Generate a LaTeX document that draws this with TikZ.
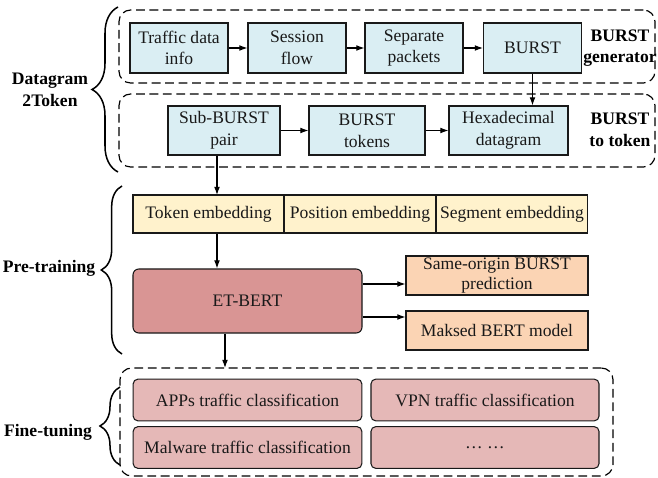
\documentclass[tikz,border=0pt]{standalone}
\usepackage{fontspec}
\setmainfont{Liberation Serif}
\usetikzlibrary{arrows.meta,decorations.pathreplacing}

\definecolor{stepblue}{HTML}{DAEEF3}
\definecolor{embyellow}{HTML}{FFF2CC}
\definecolor{taskpeach}{HTML}{FBD4B4}
\definecolor{bertred}{HTML}{D99594}
\definecolor{finepink}{HTML}{E5B8B7}

\begin{document}
\begin{tikzpicture}[x=0.03cm,y=-0.03cm,
    font=\fontsize{15}{18.5}\selectfont,
    every node/.style={align=center,inner sep=0pt,text=black!90},
    stepbox/.style={draw=black!90,line width=0.9pt,fill=stepblue,minimum height=1.5cm,minimum width=2.94cm},
    embbox/.style={draw=black!90,line width=0.9pt,fill=embyellow,minimum height=1.14cm,minimum width=4.55cm},
    taskbox/.style={draw=black!90,line width=0.9pt,fill=taskpeach,minimum height=1.17cm,minimum width=5.46cm},
    finebox/.style={draw=black!90,line width=0.9pt,fill=finepink,rounded corners=4pt,minimum height=1.25cm,minimum width=6.86cm},
    groupbox/.style={draw=black,line width=1pt,dash pattern=on 7.5pt off 4pt,rounded corners=10pt},
    lbl/.style={font=\fontsize{15}{18.5}\selectfont\bfseries,text=black},
    arr/.style={-{Latex[length=7pt,width=5pt]},line width=0.9pt,draw=black},
    brc/.style={decorate,line width=1.3pt,draw=black}]
    \useasboundingbox (0,0) rectangle (658,478);

    % Datagram2Token: burst generator
    \node[groupbox,minimum width=16.08cm,minimum height=2.19cm] (genbox) at (387,46.5) {};
    \node[stepbox] (trafficinfo) at (179,48) {Traffic data\\info};
    \node[stepbox] (session) at (297,48) {Session\\flow};
    \node[stepbox] (seppkt) at (414,48) {Separate\\packets};
    \node[stepbox] (burst) at (532.5,48) {BURST};
    \node[lbl] (genlbl) at (620,48) {BURST\\generator};

    % Datagram2Token: burst to token
    \node[groupbox,minimum width=16.08cm,minimum height=2.19cm] (tokbox) at (387,130.5) {};
    \node[stepbox,minimum width=3.36cm,minimum height=1.47cm] (subpair) at (224,130.5) {Sub-BURST\\pair};
    \node[stepbox,minimum width=3.48cm,minimum height=1.47cm] (bursttok) at (367,130.5) {BURST\\tokens};
    \node[stepbox,minimum width=3.57cm,minimum height=1.47cm] (hexdata) at (508.5,130.5) {Hexadecimal\\datagram};
    \node[lbl] (toklbl) at (620,130) {BURST\\to token};

    \draw[arr] (trafficinfo) -- (session);
    \draw[arr] (session) -- (seppkt);
    \draw[arr] (seppkt) -- (burst);
    \draw[arr] (burst) -- (burst |- hexdata.north);
    \draw[arr] (subpair) -- (bursttok);
    \draw[arr] (bursttok) -- (hexdata);

    \draw[brc,decoration={brace,amplitude=0.78cm}] (118,172) -- (118,7);
    \node[lbl] (dtlbl) at (50,90) {Datagram\\2Token};

    % Pre-training
    \node[embbox,minimum width=4.53cm] (tokemb) at (208.5,214) {Token embedding};
    \node[embbox] (posemb) at (360,214) {Position embedding};
    \node[embbox] (segemb) at (512,214) {Segment embedding};
    \coordinate (tokin) at (217,195);
    \draw[arr] (subpair.south -| tokin) -- (tokin);

    \node[draw=black!90,line width=0.9pt,fill=bertred,rounded corners=5pt,minimum width=6.87cm,minimum height=1.92cm] (etbert) at (247.5,301) {ET-BERT};
    \draw[arr] (tokemb.south -| tokin) -- (etbert.north -| tokin);

    \node[taskbox] (sameorigin) at (497,275.5) {Same-origin BURST\\[-1.5pt]prediction};
    \node[taskbox] (masked) at (497,330.5) {Maksed BERT model};
    \draw[arr] ([yshift=0.51cm]etbert.east) -- ([yshift=0.51cm]etbert.east -| sameorigin.west);
    \draw[arr] ([yshift=-0.48cm]etbert.east) -- ([yshift=-0.48cm]etbert.east -| masked.west);

    \draw[brc,decoration={brace,amplitude=0.62cm}] (122,354) -- (122,186);
    \node[lbl] (ptlbl) at (49,268) {Pre-training};

    % Fine-tuning
    \node[groupbox,minimum width=14.79cm,minimum height=3.24cm] (fineset) at (366.5,422) {};
    \node[finebox] (apps) at (247.5,400) {APPs traffic classification};
    \node[finebox,minimum width=6.84cm] (vpn) at (485,400) {VPN traffic classification};
    \node[finebox] (malware) at (247.5,447.5) {Malware traffic classification};
    \node[finebox,minimum width=6.84cm] (more) at (485,447.5) {\textellipsis\ \textellipsis};
    \coordinate (ftin) at (225,368);
    \draw[arr] (etbert.south -| ftin) -- (ftin);

    \draw[brc,decoration={brace,amplitude=0.6cm}] (120,465) -- (120,387);
    \node[lbl] (ftlbl) at (48,432) {Fine-tuning};
\end{tikzpicture}
\end{document}
